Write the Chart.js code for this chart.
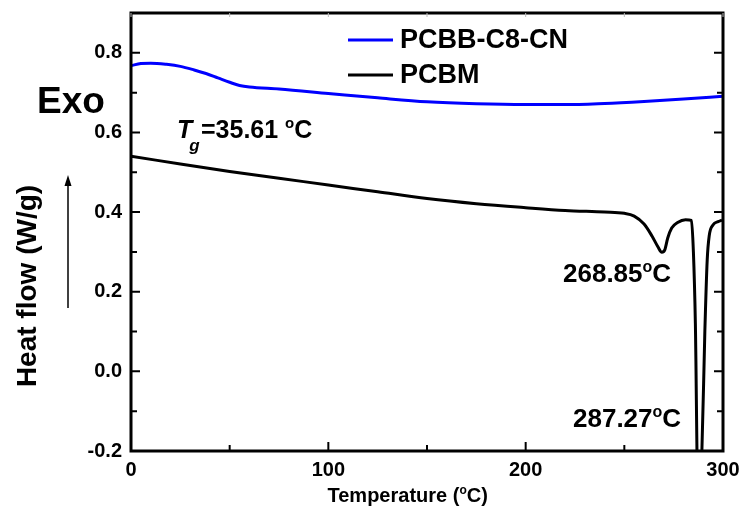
<!DOCTYPE html>
<html>
<head>
<meta charset="utf-8">
<script src="https://cdn.jsdelivr.net/npm/chart.js@4.4.1/dist/chart.umd.min.js"></script>
<style>
  body { margin: 0; background: #fff; }
  #wrap { width: 745px; height: 512px; }
</style>
</head>
<body>
<div id="wrap"><canvas id="dscChart" width="745" height="512"></canvas></div>
<script>
// DSC curves, values
const tempBlue = [0, 5, 10, 18, 25, 32, 38, 44, 50, 55, 60, 75, 100, 125, 150, 175, 200, 220, 240, 260, 280, 300];
const flowBlue = [0.768, 0.773, 0.774, 0.771, 0.766, 0.757, 0.748, 0.737, 0.726, 0.718, 0.714, 0.709, 0.698, 0.687, 0.677, 0.672, 0.670, 0.670, 0.673, 0.678, 0.684, 0.691];

const tempBlack = [0, 25, 50, 75, 100, 125, 150, 175, 200, 220, 240, 250, 255, 260, 264, 267, 269, 270.5, 272, 274, 277, 281, 284, 285, 286, 287.27, 289.3, 290.8, 292, 293, 295, 297.5, 299.5];
const flowBlack = [0.540, 0.521, 0.502, 0.485, 0.468, 0.451, 0.434, 0.421, 0.411, 0.404, 0.400, 0.397, 0.390, 0.370, 0.340, 0.313, 0.299, 0.305, 0.335, 0.360, 0.374, 0.381, 0.379, 0.300, 0.120, -0.300, -0.200, 0.100, 0.280, 0.340, 0.368, 0.376, 0.380];

const seriesNames = ['PCBB-C8-CN', 'PCBM'];
const xMajor = [0, 100, 200, 300];
const yMajor = [-0.2, 0.0, 0.2, 0.4, 0.6, 0.8];

const FONT = '"Liberation Sans", Arial, sans-serif';

function toPoints(xs, ys) {
    return xs.map((t, i) => ({ x: t, y: ys[i] }));
}
function isMajor(list, v) {
    return list.some(m => Math.abs(m - v) < 1e-6);
}

function degLabel(ctx, txt, x, base, size) {
    ctx.font = `bold ${size}px ${FONT}`;
    ctx.fillText(txt, x, base);
    let w = ctx.measureText(txt).width;
    ctx.font = `bold ${Math.round(size * 0.6)}px ${FONT}`;
    ctx.fillText('o', x + w, base - size * 0.4);
    w += ctx.measureText('o').width;
    ctx.font = `bold ${size}px ${FONT}`;
    ctx.fillText('C', x + w, base);
}

const decorations = {
    id: 'decorations',
    afterDraw(chart) {
        const { ctx, chartArea: a, scales: { x, y } } = chart;
        ctx.save();
        ctx.strokeStyle = '#000';
        ctx.fillStyle = '#000';

        // frame
        ctx.lineWidth = 3;
        ctx.strokeRect(a.left, a.top, a.right - a.left, a.bottom - a.top);

        // inward ticks
        ctx.lineWidth = 2;
        y.ticks.forEach(t => {
            const py = y.getPixelForValue(t.value);
            const len = isMajor(yMajor, t.value) ? 9 : 6;
            ctx.beginPath();
            ctx.moveTo(a.left, py); ctx.lineTo(a.left + len, py);
            ctx.moveTo(a.right, py); ctx.lineTo(a.right - len, py);
            ctx.stroke();
        });
        x.ticks.forEach(t => {
            const px = x.getPixelForValue(t.value);
            const len = isMajor(xMajor, t.value) ? 9 : 6;
            ctx.strokeStyle = '#000';
            ctx.lineWidth = 2;
            ctx.beginPath();
            ctx.moveTo(px, a.bottom); ctx.lineTo(px, a.bottom - len);
            ctx.stroke();
            ctx.strokeStyle = '#bbb';
            ctx.lineWidth = 1;
            ctx.beginPath();
            ctx.moveTo(px, a.top); ctx.lineTo(px, a.top + 4);
            ctx.stroke();
        });

        // legend
        ctx.lineWidth = 3;
        const legendColors = ['#0000ff', '#000000'];
        const legendY = [40, 75];
        ctx.font = `bold 27px ${FONT}`;
        seriesNames.forEach((name, i) => {
            ctx.strokeStyle = legendColors[i];
            ctx.beginPath();
            ctx.moveTo(348, legendY[i]); ctx.lineTo(393, legendY[i]);
            ctx.stroke();
            ctx.fillText(name, 400, legendY[i] + 8);
        });

        // axis titles
        ctx.font = `bold 28px ${FONT}`;
        ctx.textAlign = 'center';
        ctx.save();
        ctx.translate(36, 286);
        ctx.rotate(-Math.PI / 2);
        ctx.fillText('Heat flow (W/g)', 0, 0);
        ctx.restore();

        ctx.textAlign = 'left';
        ctx.font = `bold 20px ${FONT}`;
        const p1 = 'Temperature (';
        const wTotal = ctx.measureText(p1 + 'C)').width + 8;
        let tx = 408 - wTotal / 2;
        ctx.fillText(p1, tx, 502);
        tx += ctx.measureText(p1).width;
        ctx.font = `bold 12px ${FONT}`;
        ctx.fillText('o', tx, 494);
        tx += ctx.measureText('o').width;
        ctx.font = `bold 20px ${FONT}`;
        ctx.fillText('C)', tx, 502);

        // Exo + arrow
        ctx.font = `bold 37px ${FONT}`;
        ctx.fillText('Exo', 37, 113);
        ctx.strokeStyle = '#000';
        ctx.lineWidth = 1.5;
        ctx.beginPath();
        ctx.moveTo(68, 308); ctx.lineTo(68, 180);
        ctx.stroke();
        ctx.beginPath();
        ctx.moveTo(68, 175); ctx.lineTo(64.5, 186); ctx.lineTo(71.5, 186);
        ctx.closePath();
        ctx.fill();

        // Tg label
        ctx.font = `italic bold 25px ${FONT}`;
        ctx.fillText('T', 177, 138);
        const wT = ctx.measureText('T').width;
        ctx.font = `italic bold 17px ${FONT}`;
        ctx.fillText('g', 177 + wT - 3, 151);
        degLabel(ctx, '=35.61 ', 201, 138, 25);

        // peak labels
        degLabel(ctx, '268.85', 563, 282, 26);
        degLabel(ctx, '287.27', 573, 427, 26);

        ctx.restore();
    }
};

document.addEventListener('DOMContentLoaded', () => {
    const ctx = document.getElementById('dscChart');
    new Chart(ctx, {
        type: 'line',
        data: {
            datasets: [{
                label: seriesNames[0],
                data: toPoints(tempBlue, flowBlue),
                borderColor: '#0000ff',
                borderWidth: 3,
                pointRadius: 0,
                cubicInterpolationMode: 'monotone',
                fill: false
            }, {
                label: seriesNames[1],
                data: toPoints(tempBlack, flowBlack),
                borderColor: '#000000',
                borderWidth: 3,
                pointRadius: 0,
                cubicInterpolationMode: 'monotone',
                fill: false
            }]
        },
        options: {
            responsive: false,
            animation: false,
            layout: { padding: { top: 13, right: 22, left: 0, bottom: 0 } },
            plugins: {
                legend: { display: false },
                tooltip: { enabled: false }
            },
            scales: {
                x: {
                    type: 'linear',
                    min: 0,
                    max: 300,
                    grid: { display: false, drawTicks: false, tickLength: 0 },
                    border: { display: false },
                    afterFit: s => { s.height = 61; s.paddingLeft = 0; s.paddingRight = 0; },
                    ticks: {
                        stepSize: 50,
                        autoSkip: false,
                        maxRotation: 0,
                        padding: 7,
                        color: '#000',
                        font: { family: FONT, size: 20, weight: 'bold' },
                        callback: v => isMajor(xMajor, v) ? String(v) : ''
                    }
                },
                y: {
                    min: -0.2,
                    max: 0.9,
                    grid: { display: false, drawTicks: false, tickLength: 0 },
                    border: { display: false },
                    afterFit: s => { s.width = 131; s.paddingTop = 0; s.paddingBottom = 0; },
                    ticks: {
                        stepSize: 0.1,
                        autoSkip: false,
                        padding: 9,
                        color: '#000',
                        font: { family: FONT, size: 20, weight: 'bold' },
                        callback: v => isMajor(yMajor, v) ? v.toFixed(1) : ''
                    }
                }
            }
        },
        plugins: [decorations]
    });
});
</script>
</body>
</html>
